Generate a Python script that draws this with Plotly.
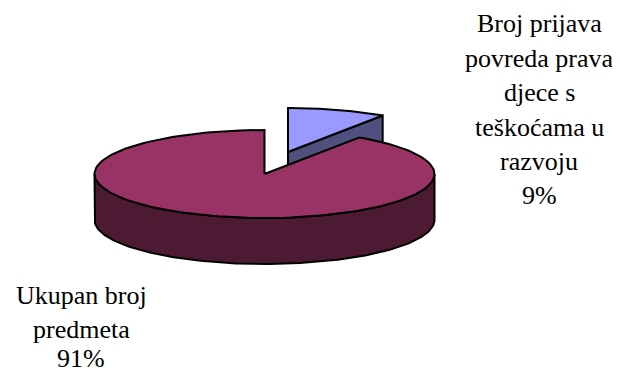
import numpy as np
import plotly.graph_objects as go

categories = ["Broj prijava povreda prava djece s teškoćama u razvoju", "Ukupan broj predmeta"]
values = [9.4, 90.6]
percent_labels = ["9%", "91%"]
label_lines = [
    ["Broj prijava", "povreda prava", "djece s", "teškoćama u", "razvoju", "9%"],
    ["Ukupan broj", "predmeta", "91%"],
]
top_colors = ["#9999FF", "#993366"]
side_colors = ["#50507F", "#4D1A33"]

W, H = 620, 373
PAGE_MARGIN = 8  # the page body offsets the figure
RX, RY, DEPTH = 170, 44, 46
centers = [(288, 152), (264.5, 174)]
LABEL_X = [539, 81]
LABEL_Y = [[23, 58, 92, 127, 161, 195], [295, 329, 358]]
FONT = dict(family="Liberation Serif", size=26, color="black")

shares = np.array(values) / sum(values) * 2 * np.pi
a0 = [0.0, shares[0]]
a1 = [shares[0], 2 * np.pi]


def rim(c, start, stop, n=160):
    t = np.linspace(start, stop, n)
    return c[0] + RX * np.sin(t), c[1] - RY * np.cos(t), t


def poly(x, y, fill):
    return go.Scatter(x=list(x), y=list(y), mode="lines", fill="toself", fillcolor=fill,
                      line=dict(color="black", width=2), hoverinfo="skip", showlegend=False)


fig = go.Figure()

# small exploded slice: cut-side face, then top
c = centers[0]
ex, ey, _ = rim(c, a1[0], a1[0], 1)
fig.add_trace(poly([c[0], ex[0], ex[0], c[0], c[0]],
                   [c[1], ey[0], ey[0] + DEPTH, c[1] + DEPTH, c[1]], side_colors[0]))
x, y, _ = rim(c, a0[0], a1[0])
fig.add_trace(poly([c[0], *x, c[0]], [c[1], *y, c[1]], top_colors[0]))

# large slice: outer wall (front half of the rim), then top
c = centers[1]
x, y, _ = rim(c, np.pi / 2, 3 * np.pi / 2)
fig.add_trace(poly([*x, *x[::-1], x[0]], [*y, *(y[::-1] + DEPTH), y[0]], side_colors[1]))
x, y, _ = rim(c, a0[1], a1[1])
fig.add_trace(poly([c[0], *x, c[0]], [c[1], *y, c[1]], top_colors[1]))

for lines, lx, ly in zip(label_lines, LABEL_X, LABEL_Y):
    for s, yy in zip(lines, ly):
        fig.add_annotation(x=lx, y=yy, text=s, showarrow=False, font=FONT,
                           xanchor="center", yanchor="middle")

fig.update_xaxes(range=[PAGE_MARGIN, W + PAGE_MARGIN], visible=False, fixedrange=True)
fig.update_yaxes(range=[H + PAGE_MARGIN, PAGE_MARGIN], visible=False, fixedrange=True)
fig.update_layout(width=W, height=H, margin=dict(l=0, r=0, t=0, b=0),
                  paper_bgcolor="white", plot_bgcolor="white", showlegend=False)
fig.write_html("out.html", config=dict(displayModeBar=False))
